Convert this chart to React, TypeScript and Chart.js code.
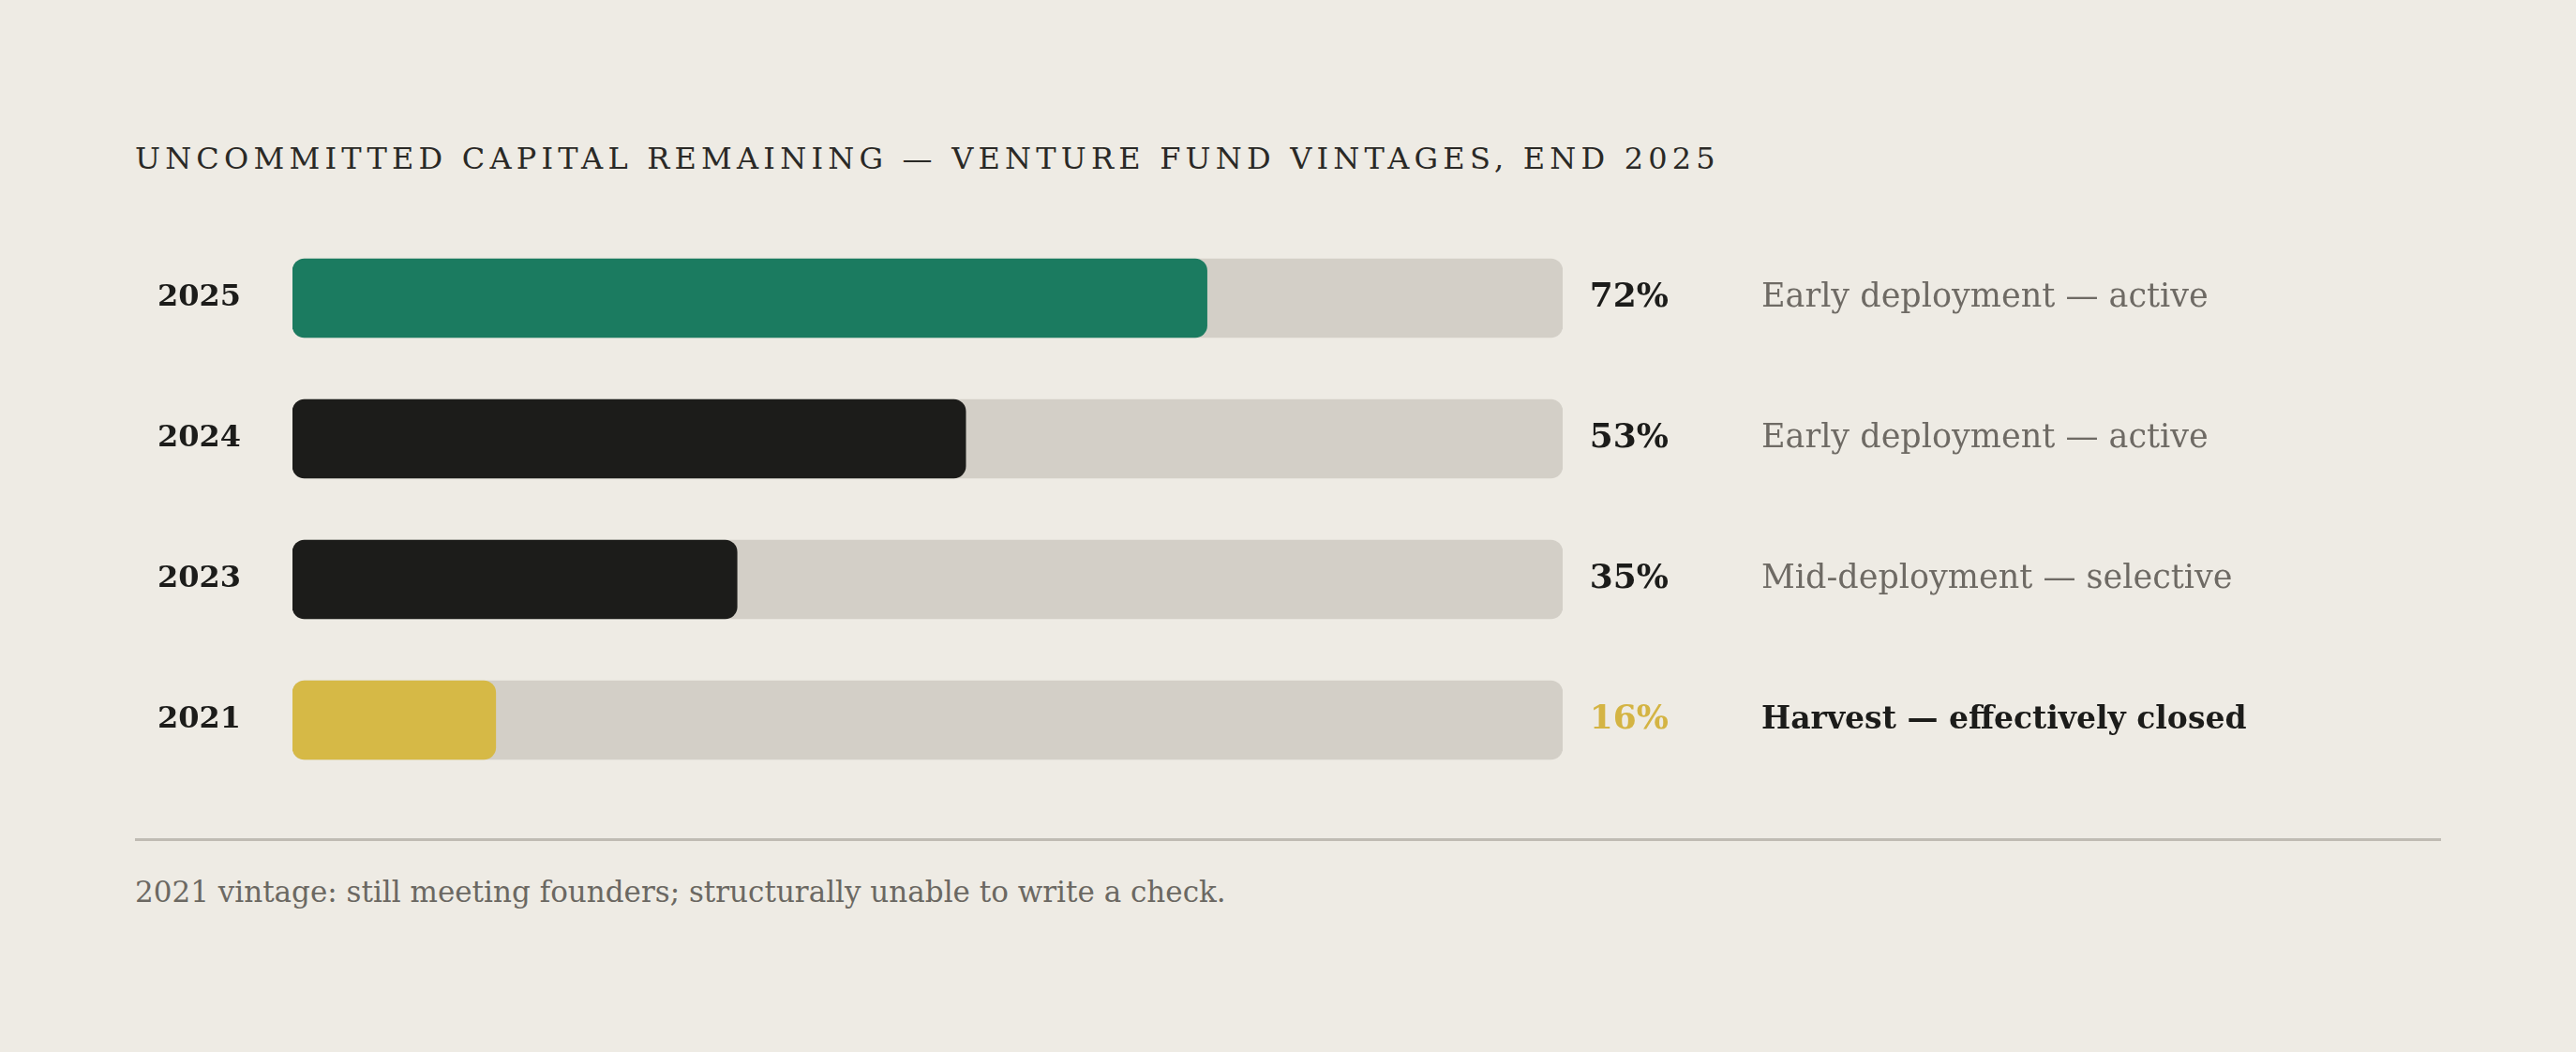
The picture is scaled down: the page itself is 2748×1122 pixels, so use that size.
import React, { useEffect, useRef } from "react";
import { Chart, registerables } from "chart.js";

Chart.register(...registerables);

const SERIF = '"DejaVu Serif", serif';

// data
const vintages = ["2025", "2024", "2023", "2021"];
const remaining = [72, 53, 35, 16];
const trackFull = [100, 100, 100, 100];
const statuses = [
  "Early deployment — active",
  "Early deployment — active",
  "Mid-deployment — selective",
  "Harvest — effectively closed",
];
const barColors = ["#1B7B60", "#1C1C1A", "#1C1C1A", "#D6B946"];
const pctColors = ["#1C1C1A", "#1C1C1A", "#1C1C1A", "#D4B443"];
const statusColors = ["#6E6A64", "#6E6A64", "#6E6A64", "#1C1C1A"];
const statusBold = [false, false, false, true];

const sideText = {
  id: "sideText",
  afterDatasetsDraw(chart: any) {
    const { ctx, chartArea } = chart;
    const meta = chart.getDatasetMeta(0);
    ctx.save();
    ctx.textBaseline = "middle";
    meta.data.forEach((bar: any, i: number) => {
      ctx.font = `bold 36px ${SERIF}`;
      ctx.textAlign = "right";
      ctx.fillStyle = pctColors[i];
      ctx.fillText(`${remaining[i]}%`, chartArea.right + 113, bar.y);

      ctx.font = statusBold[i] ? `bold 33px ${SERIF}` : `35px ${SERIF}`;
      ctx.textAlign = "left";
      ctx.fillStyle = statusColors[i];
      ctx.fillText(statuses[i], chartArea.right + 212, bar.y);
    });
    ctx.restore();
  },
};

const App = () => {
  const canvasRef = useRef<HTMLCanvasElement | null>(null);

  useEffect(() => {
    const ctx = canvasRef.current?.getContext("2d");
    if (!ctx) return;

    const chart = new Chart(ctx, {
      type: "bar",
      data: {
        labels: vintages,
        datasets: [
          {
            data: remaining,
            backgroundColor: barColors,
            borderRadius: 13,
            borderSkipped: false,
            grouped: false,
            barThickness: 84,
            order: 0,
          },
          {
            data: trackFull,
            backgroundColor: "#D3CFC7",
            borderRadius: 13,
            borderSkipped: false,
            grouped: false,
            barThickness: 84,
            order: 1,
          },
        ],
      },
      options: {
        indexAxis: "y",
        animation: false,
        responsive: false,
        devicePixelRatio: 1,
        layout: {
          autoPadding: false,
          padding: { left: 0, right: 1081, top: 0, bottom: 0 },
        },
        plugins: {
          legend: { display: false },
          tooltip: { enabled: false },
        },
        scales: {
          x: { min: 0, max: 100, display: false },
          y: {
            grid: { display: false, drawTicks: false },
            border: { display: false },
            ticks: {
              color: "#1C1C1A",
              padding: 55,
              font: { family: SERIF, size: 32, weight: "bold" },
            },
            afterFit(scale: any) {
              scale.width = 312;
              scale.paddingTop = 0;
              scale.paddingBottom = 0;
            },
          },
        },
      },
      plugins: [sideText],
    });

    return () => {
      chart.destroy();
    };
  }, []);

  return (
    <div
      style={{
        position: "absolute",
        left: 0,
        top: 0,
        width: 2748,
        height: 1122,
        background: "#EEEBE4",
        fontFamily: SERIF,
        overflow: "hidden",
      }}
    >
      <div
        style={{
          position: "absolute",
          left: 144,
          top: 153,
          fontSize: 32,
          lineHeight: 1,
          letterSpacing: 5.2,
          color: "#2A2926",
          whiteSpace: "nowrap",
        }}
      >
        UNCOMMITTED CAPITAL REMAINING — VENTURE FUND VINTAGES, END 2025
      </div>
      <canvas
        ref={canvasRef}
        width={2748}
        height={600}
        style={{ position: "absolute", left: 0, top: 243, width: 2748, height: 600 }}
      />
      <div
        style={{
          position: "absolute",
          left: 144,
          top: 894,
          width: 2460,
          height: 3,
          background: "#BFBBB3",
        }}
      />
      <div
        style={{
          position: "absolute",
          left: 144,
          top: 936,
          fontSize: 31,
          lineHeight: 1,
          color: "#6B6862",
          whiteSpace: "nowrap",
        }}
      >
        2021 vintage: still meeting founders; structurally unable to write a check.
      </div>
    </div>
  );
};

export default App;
